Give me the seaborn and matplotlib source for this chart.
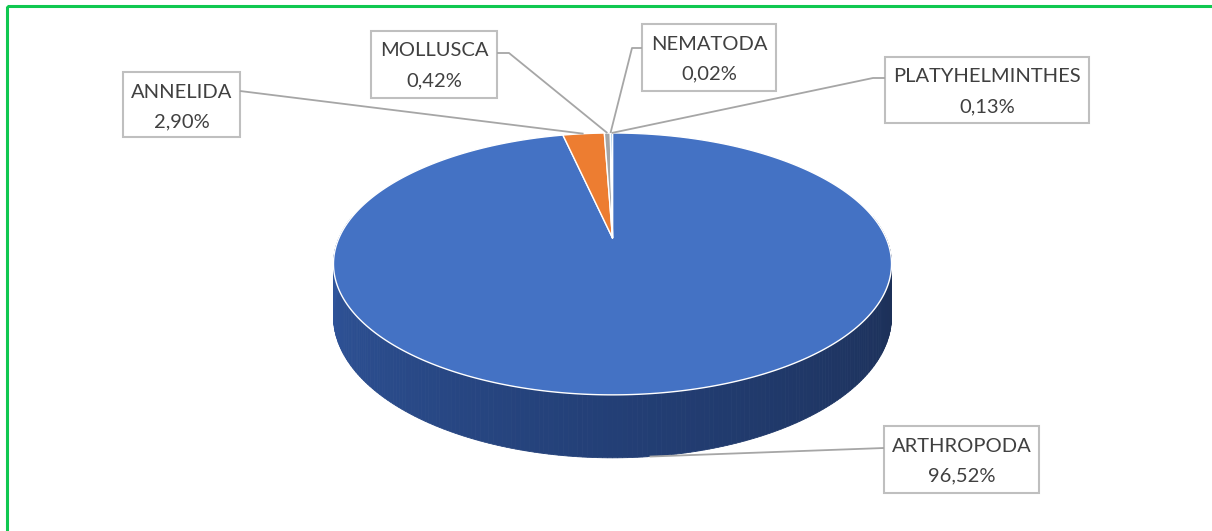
import numpy as np
import seaborn as sns
import matplotlib.pyplot as plt
from matplotlib.patches import Polygon, Rectangle

# data
phyla = ['ARTHROPODA', 'ANNELIDA', 'MOLLUSCA', 'NEMATODA', 'PLATYHELMINTHES']
shares = [96.52, 2.90, 0.42, 0.02, 0.13]
slice_colors = ['#4472C4', '#ED7D31', '#A5A5A5', '#FFC000', '#5B9BD5']

sns.set_theme(style='white')
plt.rcParams['font.family'] = ['Lato', 'DejaVu Sans']

# pie geometry in pixel units (3d look with a bit of perspective)
CX, CY = 612.5, 238.0
RX, RY = 273.5, 125.8
PERSP = 0.198
DEPTH = 50.5


def rim(t_deg, drop=0.0):
    # angle measured clockwise from 12 o'clock, like Excel
    t = np.radians(t_deg)
    u, v = np.sin(t), -np.cos(t)
    s = 1.0 / (1.0 - PERSP * v)
    return CX + RX * u * s, CY + (RY * v + drop) * s


fig = plt.figure(figsize=(12.12, 5.31), dpi=100)
ax = fig.add_axes([0, 0, 1, 1])
ax.set_xlim(0, 1212)
ax.set_ylim(531, 0)
ax.axis('off')

# side wall, shaded left to right
side_angles = np.linspace(80, 280, 241)
side_cols = sns.blend_palette(['#1A2B4E', '#233F76', '#3259A2'], len(side_angles) - 1)
for i in range(len(side_angles) - 1):
    a0, a1 = side_angles[i], side_angles[i + 1]
    pts = [rim(a0), rim(a1), rim(a1, DEPTH), rim(a0, DEPTH)]
    ax.add_patch(Polygon(pts, closed=True, facecolor=side_cols[i],
                         edgecolor=side_cols[i], lw=0.6))

# top face slices
total = sum(shares)
bounds = np.concatenate([[0], np.cumsum(shares)]) / total * 360
mids = []
for i, col in enumerate(slice_colors):
    a0, a1 = bounds[i], bounds[i + 1]
    n = max(3, int((a1 - a0) * 2))
    arc = [rim(a) for a in np.linspace(a0, a1, n)]
    ax.add_patch(Polygon([(CX, CY)] + arc, closed=True, facecolor=col,
                         edgecolor='white', lw=1.0, joinstyle='round'))
    mids.append((a0 + a1) / 2)

# label boxes: x0, y0, x1, y1, leader start, elbow x
layout = {
    'ARTHROPODA': (884, 426, 1039, 493, (884, 448), None),
    'ANNELIDA': (123, 72, 240, 137, (240, 91), None),
    'MOLLUSCA': (371, 31, 497, 98, (497, 53), 509),
    'NEMATODA': (642, 24, 776, 91, (642, 48), 632),
    'PLATYHELMINTHES': (885, 57, 1089, 123, (885, 78), 873),
}

for name, val, mid in zip(phyla, shares, mids):
    x0, y0, x1, y1, start, elbow = layout[name]
    drop = DEPTH if 90 < mid < 270 else 0.0
    end = rim(mid, drop)
    xs, ys = [start[0]], [start[1]]
    if elbow is not None:
        xs.append(elbow)
        ys.append(start[1])
    xs.append(end[0])
    ys.append(end[1])
    ax.plot(xs, ys, color='#A6A6A6', lw=1.3, solid_capstyle='butt')
    ax.add_patch(Rectangle((x0, y0), x1 - x0, y1 - y0, facecolor='white',
                           edgecolor='#BFBFBF', lw=1.5))
    xc = (x0 + x1) / 2
    pct = f'{val:.2f}'.replace('.', ',') + '%'
    ax.text(xc, y0 + 20, name, ha='center', va='center', fontsize=14.5, color='#404040')
    ax.text(xc, y0 + 50, pct, ha='center', va='center', fontsize=14.5, color='#404040')

# green frame (only left and top edges fall inside the image)
ax.add_patch(Rectangle((7, 6), 1300, 700, fill=False, edgecolor='#10C850', lw=2.2))

fig.savefig('out.png', dpi=100)
